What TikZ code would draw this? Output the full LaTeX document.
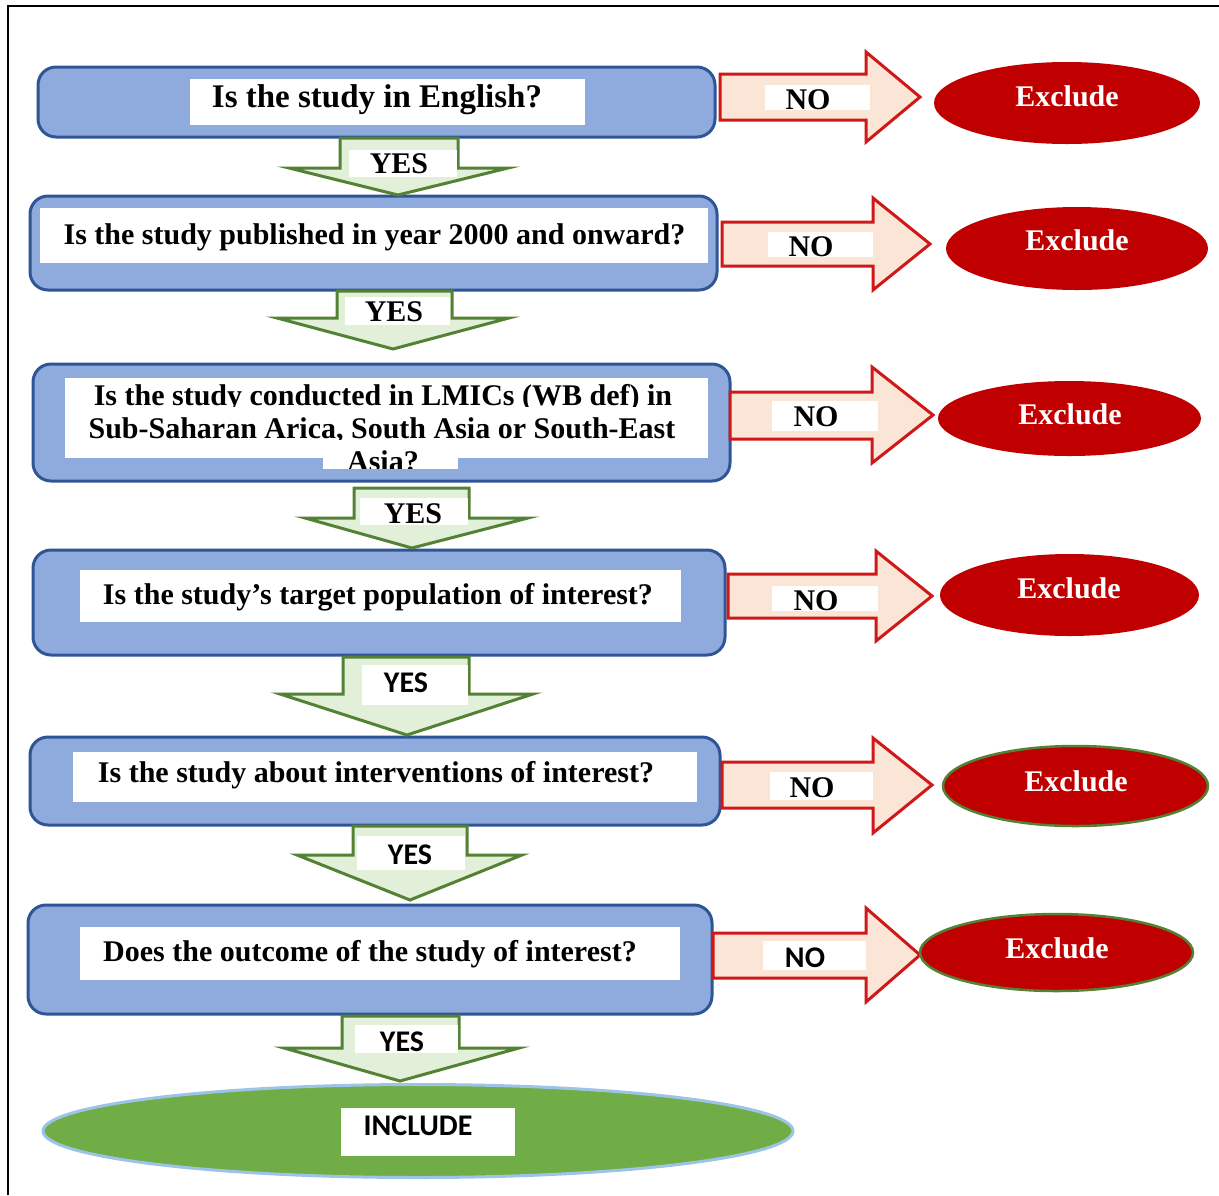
\documentclass[tikz,border=0pt]{standalone}
\usepackage{fontspec}
\setmainfont{Liberation Serif}
\newfontfamily\calib{Carlito}
\usetikzlibrary{shapes.geometric}
\definecolor{boxfill}{HTML}{8FAADC}
\definecolor{boxline}{HTML}{2F5597}
\definecolor{yesfill}{HTML}{E2F0D9}
\definecolor{yesline}{HTML}{548235}
\definecolor{nofill}{HTML}{FBE5D6}
\definecolor{noline}{HTML}{D01818}
\definecolor{exfill}{HTML}{C00000}
\definecolor{incfill}{HTML}{70AD47}
\definecolor{incline}{HTML}{9DC3E6}
\newcommand\yesarrow[8]{% shaft left, shaft right, top y, shoulder y, head left, head right, tip x, tip y
  \draw[yesarr] (#1,#3) -- (#2,#3) -- (#2,#4) -- (#6,#4) -- (#7,#8) -- (#5,#4) -- (#1,#4) -- cycle;}
\newcommand\noarrow[8]{% shaft start x, shaft top, shaft bottom, head x, head top, head bottom, tip x, tip y
  \draw[noarr] (#1,#2) -- (#4,#2) -- (#4,#5) -- (#7,#8) -- (#4,#6) -- (#4,#3) -- (#1,#3) -- cycle;}
\begin{document}
\begin{tikzpicture}[x=1pt,y=-1pt,
  qbox/.style={draw=boxline, fill=boxfill, line width=3pt, rounded corners=18pt, inner sep=0pt},
  wbox/.style={fill=white, inner sep=0pt},
  qtext/.style={font=\bfseries\fontsize{30}{33}\selectfont, anchor=base, inner sep=0pt},
  stext/.style={font=\calib\bfseries\fontsize{30}{33}\selectfont, anchor=base, inner sep=0pt},
  etext/.style={font=\bfseries\fontsize{30}{33}\selectfont, anchor=base, inner sep=0pt, text=white},
  yesarr/.style={draw=yesline, fill=yesfill, line width=3pt, line join=miter},
  noarr/.style={draw=noline, fill=nofill, line width=3pt, line join=miter},
  excl/.style={ellipse, fill=exfill, inner sep=0pt},
]
\useasboundingbox (0,0) rectangle (1219,1195);
\fill[white] (0,0) rectangle (1219,1195);
\draw[line width=1.5pt] (8,1195) -- (8,6) -- (1219,6);

% question boxes
\node[qbox, minimum width=677, minimum height=70] (b1) at (376.5,102) {};
\node[qbox, minimum width=687, minimum height=94] (b2) at (373.5,243) {};
\node[qbox, minimum width=697, minimum height=117] (b3) at (381.5,422.5) {};
\node[qbox, minimum width=692, minimum height=105] (b4) at (379,602.5) {};
\node[qbox, minimum width=690, minimum height=88] (b5) at (375,781) {};
\node[qbox, minimum width=684, minimum height=109] (b6) at (370,959.5) {};

% white label areas
\node[wbox, minimum width=395, minimum height=46] (w1) at (387.5,102) {};
\node[wbox, minimum width=668, minimum height=55] (w2) at (374,235.5) {};
\node[wbox, minimum width=643, minimum height=80] (w3) at (386.5,418) {};
\node[wbox, minimum width=135, minimum height=12] (w3b) at (390.5,463) {};
\node[wbox, minimum width=601, minimum height=52] (w4) at (380.5,596) {};
\node[wbox, minimum width=624, minimum height=50] (w5) at (385,777) {};
\node[wbox, minimum width=600, minimum height=53] (w6) at (380,953.5) {};

% question texts
\node[qtext, font=\bfseries\fontsize{33}{36}\selectfont] (t1) at (377,107) {Is the study in English?};
\node[qtext] (t2) at (374.5,244) {Is the study published in year 2000 and onward?};
\begin{scope}
  \clip (60,370) rectangle (712,406);
  \node[qtext] (t3a) at (383,405) {Is the study conducted in LMICs (WB def) in};
\end{scope}
\begin{scope}
  \clip (60,406) rectangle (712,439);
  \node[qtext] (t3b) at (382,438) {Sub-Saharan Arica, South Asia or South-East};
\end{scope}
\begin{scope}
  \clip (323,440) rectangle (458,468);
  \node[qtext] (t3c) at (383,471) {Asia?};
\end{scope}
\node[qtext] (t4) at (378,604) {Is the study’s target population of interest?};
\node[qtext] (t5) at (376,782) {Is the study about interventions of interest?};
\node[qtext] (t6) at (370,961) {Does the outcome of the study of interest?};

% include
\node[ellipse, fill=incfill, draw=incline, line width=3pt, minimum width=750, minimum height=93, inner sep=0pt] (inc) at (418,1131) {};
\node[wbox, minimum width=174, minimum height=48] (wi) at (428,1132) {};
\node[stext] (ti) at (418,1135) {INCLUDE};

% YES arrows
\yesarrow{340}{458}{138}{168}{289}{508}{398}{195}
\node[wbox, minimum width=108, minimum height=27] (y1w) at (403,163.5) {};
\node[qtext] (y1) at (399,173) {YES};
\yesarrow{337}{452}{291}{318}{277}{509}{393}{349}
\node[wbox, minimum width=105, minimum height=28] (y2w) at (397.5,311) {};
\node[qtext] (y2) at (394,321) {YES};
\yesarrow{354}{469}{488}{518}{305}{528}{412}{548}
\node[wbox, minimum width=108, minimum height=27] (y3w) at (414,511.5) {};
\node[qtext] (y3) at (413,523) {YES};
\yesarrow{343}{469}{657}{694}{280}{533}{407}{735}
\node[wbox, minimum width=106, minimum height=40] (y4w) at (415,685) {};
\node[stext] (y4) at (406,692) {YES};
\yesarrow{353}{467}{826}{855}{297}{522}{410}{900}
\node[wbox, minimum width=108, minimum height=34] (y5w) at (411,853) {};
\node[stext] (y5) at (410,864) {YES};
\yesarrow{342}{459}{1016}{1048}{284}{519}{400}{1081}
\node[wbox, minimum width=103, minimum height=28] (y6w) at (406.5,1039) {};
\node[stext] (y6) at (402,1051) {YES};

% NO arrows
\noarrow{720}{74}{120}{866}{52}{142}{920}{97}
\node[wbox, minimum width=105, minimum height=25] (n1w) at (817.5,97.5) {};
\node[qtext] (n1) at (808,109) {NO};
\noarrow{722}{222}{266}{873}{198}{290}{930}{244}
\node[wbox, minimum width=105, minimum height=25] (n2w) at (820.5,244.5) {};
\node[qtext] (n2) at (811,256) {NO};
\noarrow{730}{392}{439}{872}{367}{463}{933}{415}
\node[wbox, minimum width=106, minimum height=30] (n3w) at (825,416) {};
\node[qtext] (n3) at (816,426) {NO};
\noarrow{728}{574}{618}{876}{551}{641}{932}{596}
\node[wbox, minimum width=106, minimum height=25] (n4w) at (825,598.5) {};
\node[qtext] (n4) at (816,610) {NO};
\noarrow{722}{762}{808}{873}{738}{833}{932}{785}
\node[wbox, minimum width=103, minimum height=28] (n5w) at (821.5,786) {};
\node[qtext] (n5) at (812,797) {NO};
\noarrow{713}{933}{978}{866}{908}{1002}{920}{955}
\node[wbox, minimum width=103, minimum height=29] (n6w) at (814.5,955.5) {};
\node[stext] (n6) at (805,967) {NO};

% Exclude ellipses
\node[excl, minimum width=266, minimum height=82] (e1) at (1067,103) {};
\node[etext] (e1t) at (1067,106) {Exclude};
\node[excl, minimum width=262, minimum height=83] (e2) at (1077,248.5) {};
\node[etext] (e2t) at (1077,250) {Exclude};
\node[excl, minimum width=263, minimum height=75] (e3) at (1069.5,418.5) {};
\node[etext] (e3t) at (1070,424) {Exclude};
\node[excl, minimum width=259, minimum height=82] (e4) at (1069.5,595) {};
\node[etext] (e4t) at (1069,598) {Exclude};
\node[excl, draw=yesline, line width=2.5pt, minimum width=265, minimum height=80] (e5) at (1075.5,786) {};
\node[etext] (e5t) at (1076,791) {Exclude};
\node[excl, draw=yesline, line width=2.5pt, minimum width=273, minimum height=77] (e6) at (1056.5,952.5) {};
\node[etext] (e6t) at (1057,958) {Exclude};
\end{tikzpicture}
\end{document}
